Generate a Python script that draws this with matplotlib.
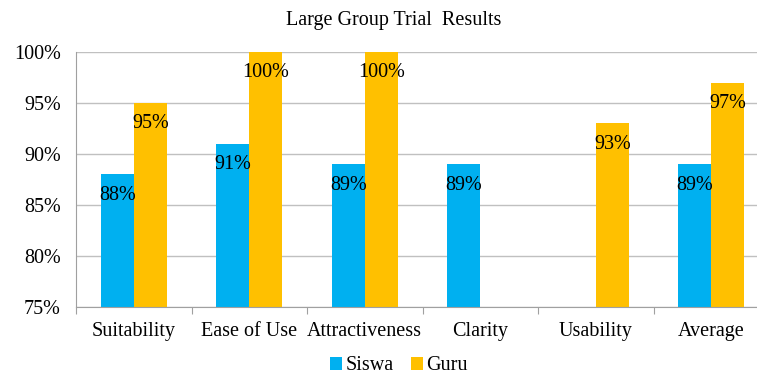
import numpy as np
import matplotlib
matplotlib.use("Agg")
import matplotlib.pyplot as plt
from matplotlib.ticker import PercentFormatter

categories = ["Suitability", "Ease of Use", "Attractiveness", "Clarity", "Usability", "Average"]
siswa = [88, 91, 89, 89, np.nan, 89]
guru = [95, 100, 100, np.nan, 93, 97]
series_names = ["Siswa", "Guru"]
colors = ["#00B0F0", "#FFC000"]
title = "Large Group Trial  Results"

plt.rcParams['font.family'] = ['Liberation Serif', 'DejaVu Serif']

W, H = 757, 376
fig = plt.figure(figsize=(W / 100, H / 100), dpi=100)
ax = fig.add_axes([76 / W, (H - 307) / H, 693 / W, 255 / H])

x = np.arange(len(categories))
bw = 0.286
for vals, off, c, name in [(siswa, -bw / 2, colors[0], series_names[0]), (guru, bw / 2, colors[1], series_names[1])]:
    v = np.array(vals, dtype=float)
    ax.bar(x + off, v - 75, bw, bottom=75, color=c, label=name, zorder=2)
    for xi, vi in zip(x + off, v):
        if not np.isnan(vi):
            ax.annotate(f"{int(vi)}%", (xi, vi), xytext=(0, -15), textcoords="offset points",
                        ha="center", va="center", fontsize=14.5, color="black", zorder=3)

ax.set_ylim(75, 100)
ax.set_xlim(-0.5, len(categories) - 0.5)
ax.set_yticks(np.arange(75, 101, 5))
ax.yaxis.set_major_formatter(PercentFormatter(decimals=0))
ax.yaxis.grid(True, color="#c0c0c0", linewidth=1, zorder=0)
ax.set_axisbelow(True)
ax.tick_params(axis="y", length=0, pad=11, labelsize=14.5)

ax.set_xticks(np.arange(-0.5, len(categories), 1.0))
ax.set_xticklabels([])
ax.set_xticks(x, minor=True)
ax.set_xticklabels(categories, minor=True)
ax.tick_params(axis="x", which="major", length=5, color="#a0a0a0", direction="out")
ax.tick_params(axis="x", which="minor", length=0, pad=11, labelsize=14.5)

for s in ["top", "right"]:
    ax.spines[s].set_visible(False)
ax.spines["left"].set_color("#a0a0a0")
ax.spines["bottom"].set_color("#a0a0a0")

fig.text(394 / W, 1 - 21 / H, title, ha="center", va="center", fontsize=14.5)

fig.legend(loc="center", bbox_to_anchor=(399 / W, 1 - 366 / H), ncol=2, frameon=False,
           fontsize=14.5, handlelength=0.6, handleheight=0.6, handletextpad=0.15, columnspacing=0.9,
           borderpad=0.1)

fig.savefig("out.png", dpi=100)
